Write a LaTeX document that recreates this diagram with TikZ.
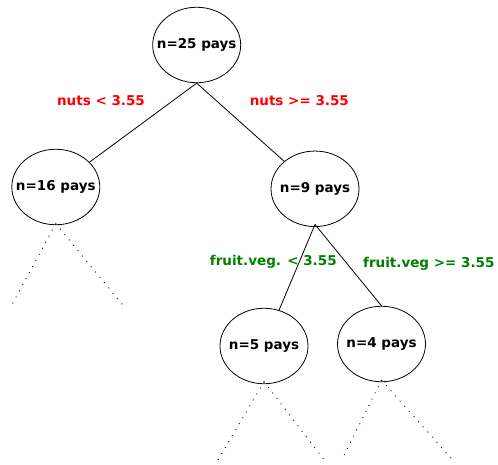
\documentclass[tikz,border=0pt]{standalone}
\usepackage{fontspec}
\setmainfont{DejaVu Sans}
\usetikzlibrary{shapes.geometric}
\definecolor{splitred}{RGB}{255,0,0}
\definecolor{splitgreen}{RGB}{0,128,0}
\newcommand{\nodetext}[1]{\makebox[0pt]{#1}}
\begin{document}
\begin{tikzpicture}[x=1pt,y=-1pt,
  treenode/.style={draw,ellipse,line width=0.8pt,minimum width=88pt,minimum height=75.5pt,inner sep=0pt,
    font=\fontsize{13.5}{16}\selectfont\bfseries},
  splitlabel/.style={font=\fontsize{13.5}{16}\selectfont\bfseries,inner sep=0pt},
  branch/.style={line width=0.8pt},
  subtree/.style={line width=0.9pt,dash pattern=on 0.9pt off 6pt}]
\useasboundingbox (0,0) rectangle (498,464);

% split conditions
\node[splitlabel,text=splitred] (l1) at (101,101) {nuts < 3.55};
\node[splitlabel,text=splitred] (l2) at (299.3,101) {nuts >= 3.55};
\node[splitlabel,text=splitgreen] (l3) at (273.3,261.7) {fruit.veg. < 3.55};
\node[splitlabel,text=splitgreen] (l4) at (428.8,263.5) {fruit.veg >= 3.55};

% nodes of the tree
\node[treenode] (root) at (196.7,45) {\nodetext{n=25 pays}};
\node[treenode] (n16) at (55.8,187) {\nodetext{n=16 pays}};
\node[treenode] (n9) at (315,188.8) {\nodetext{n=9 pays}};
\node[treenode] (n5) at (264,346) {\nodetext{n=5 pays}};
\node[treenode] (n4) at (381.5,344) {\nodetext{n=4 pays}};

% branches
\draw[branch] (root.south) -- (n16);
\draw[branch] (root.south) -- (n9);
\draw[branch] ([yshift=2.5pt]n9.south) -- (n5);
\draw[branch] ([yshift=2.5pt]n9.south) -- (n4.north);

% unexpanded subtrees
\coordinate (a1) at (11.7,305);
\coordinate (a2) at (122.7,305);
\coordinate (b1) at (216,463.3);
\coordinate (b2) at (326.7,463.3);
\coordinate (c1) at (341.7,460);
\coordinate (c2) at (452.7,460);
\draw[subtree] ([yshift=1.5pt]n16.south) -- (a1);
\draw[subtree] ([yshift=1.5pt]n16.south) -- (a2);
\draw[subtree] ([yshift=2.5pt]n5.south) -- (b1);
\draw[subtree] ([yshift=2.5pt]n5.south) -- (b2);
\draw[subtree] ([yshift=2pt]n4.south) -- (c1);
\draw[subtree] ([yshift=2pt]n4.south) -- (c2);
\end{tikzpicture}
\end{document}
